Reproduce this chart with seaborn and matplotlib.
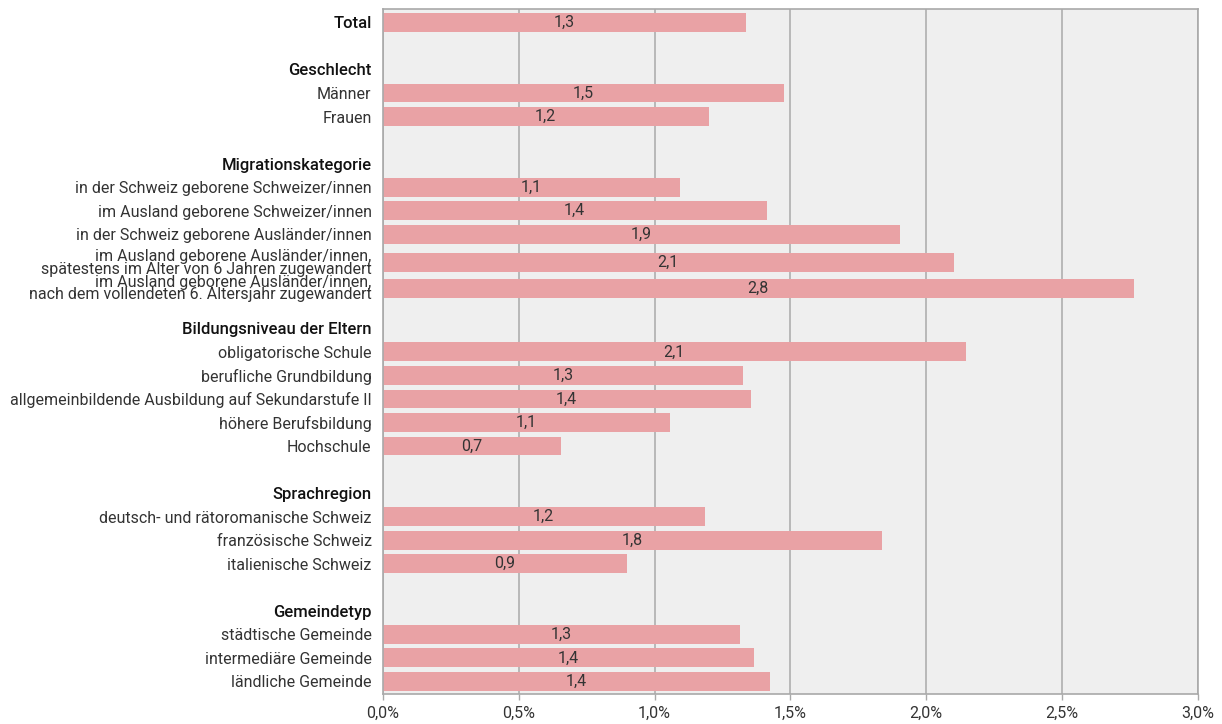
import pandas as pd
import seaborn as sns
import matplotlib.pyplot as plt

# --- Data ---
total_label = "Total"
total_value = 1.338

group_names = ["Geschlecht", "Migrationskategorie", "Bildungsniveau der Eltern",
               "Sprachregion", "Gemeindetyp"]

categories = [
    "Männer", "Frauen",
    "in der Schweiz geborene Schweizer/innen",
    "im Ausland geborene Schweizer/innen",
    "in der Schweiz geborene Ausländer/innen",
    "im Ausland geborene Ausländer/innen,\nspätestens im Alter von 6 Jahren zugewandert",
    "im Ausland geborene Ausländer/innen,\nnach dem vollendeten 6. Altersjahr zugewandert",
    "obligatorische Schule", "berufliche Grundbildung",
    "allgemeinbildende Ausbildung auf Sekundarstufe II",
    "höhere Berufsbildung", "Hochschule",
    "deutsch- und rätoromanische Schweiz", "französische Schweiz", "italienische Schweiz",
    "städtische Gemeinde", "intermediäre Gemeinde", "ländliche Gemeinde",
]
category_group = (["Geschlecht"] * 2 + ["Migrationskategorie"] * 5
                  + ["Bildungsniveau der Eltern"] * 5 + ["Sprachregion"] * 3
                  + ["Gemeindetyp"] * 3)
values = [
    1.476, 1.200,
    1.094, 1.413, 1.903, 2.101, 2.763,
    2.145, 1.327, 1.354, 1.056, 0.657,
    1.184, 1.836, 0.897,
    1.313, 1.365, 1.424,
]

# --- Layout: one row per label, an empty row before every group header ---
rows = []  # (label, is_header, value or None, y)
slot = 0
rows.append((total_label, True, total_value, slot))
for g in group_names:
    slot += 2
    rows.append((g, True, None, slot))
    wrapped = 0
    for cat, grp, val in zip(categories, category_group, values):
        if grp != g:
            continue
        slot += 1
        y = slot
        if "\n" in cat:
            # two-line labels get pushed down a little
            wrapped += 1
            y = slot + 0.1 + 0.1 * wrapped
        rows.append((cat, False, val, y))

df = pd.DataFrame(rows, columns=["label", "header", "value", "y"])
bars = df.dropna(subset=["value"])

# --- Plotting ---
sns.set_theme(style="white")
plt.rcParams["font.family"] = ["Roboto", "DejaVu Sans"]

text_color = "#333333"
line_color = "#a9a9a9"
fs = 11.5

fig = plt.figure(figsize=(12.22, 7.24), dpi=100)
ax = fig.add_axes([0.3132, 0.041, 0.6672, 0.9466])
ax.set_facecolor("#efefef")

sns.barplot(data=bars, x="value", y="y", orient="h", native_scale=True,
            color="#e9a2a5", saturation=1, width=0.8, linewidth=0,
            ax=ax, zorder=2)

ax.set_xlim(0, 3.0)
ax.set_ylim(28.55, -0.57)
ax.set_xticks([0, 0.5, 1.0, 1.5, 2.0, 2.5, 3.0])
ax.set_xticklabels([f"{t:.1f}%".replace(".", ",") for t in ax.get_xticks()],
                   fontsize=fs, color=text_color)
ax.grid(axis="x", color=line_color, linewidth=1.1)
ax.set_axisbelow(True)

ax.set_yticks(df["y"])
ax.set_yticklabels(df["label"], fontsize=fs, color=text_color,
                   linespacing=0.8)
for tick, is_header in zip(ax.get_yticklabels(), df["header"]):
    if is_header:
        tick.set_fontweight("medium")
        tick.set_fontsize(12)
        tick.set_color("#111111")

ax.tick_params(axis="y", length=0, pad=8)
ax.tick_params(axis="x", length=4, width=1, color=line_color, direction="out", pad=4,
               bottom=True)

for spine in ax.spines.values():
    spine.set_color(line_color)
    spine.set_linewidth(1.2)

for _, r in bars.iterrows():
    ax.text(r["value"] / 2, r["y"], f"{r['value']:.1f}".replace(".", ","),
            ha="center", va="center", fontsize=fs, color=text_color)

ax.set_xlabel("")
ax.set_ylabel("")

fig.savefig("out.png", dpi=100)
